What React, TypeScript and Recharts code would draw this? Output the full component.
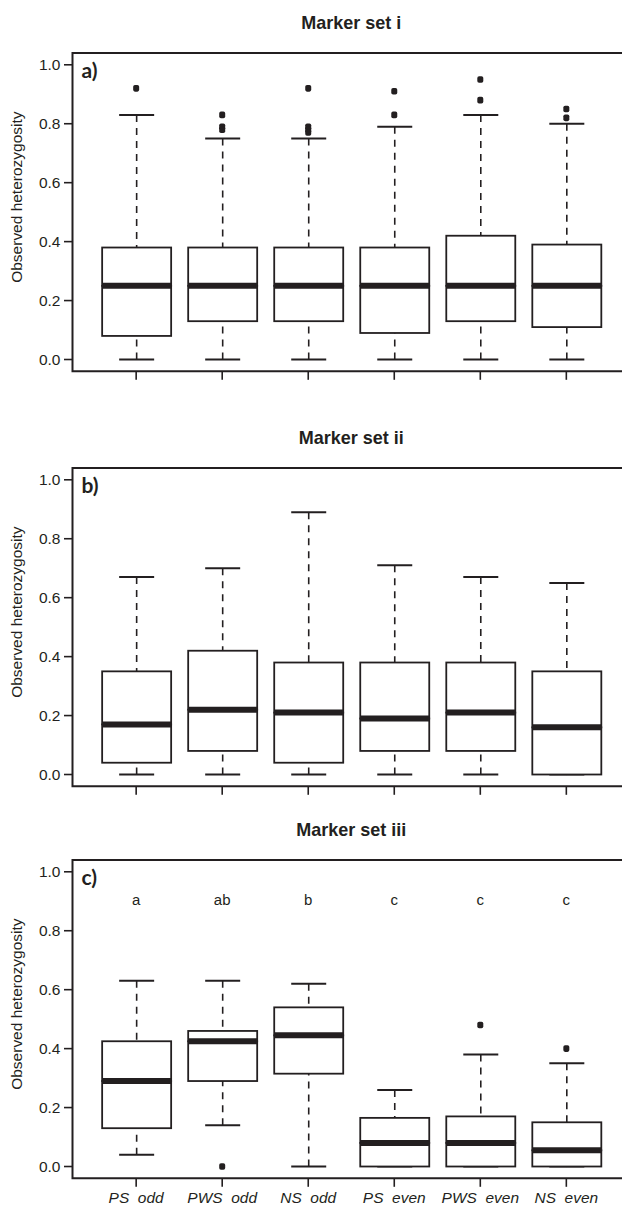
import React from "react";
import {
  ComposedChart,
  Bar,
  Scatter,
  XAxis,
  YAxis,
  ReferenceArea,
} from "recharts";

const groups = ["PS  odd", "PWS  odd", "NS  odd", "PS  even", "PWS  even", "NS  even"];
const positions = [1, 2, 3, 4, 5, 6];
const yTicks = [0, 0.2, 0.4, 0.6, 0.8, 1.0];

// Marker set i
const minA = [0, 0, 0, 0, 0, 0];
const q1A = [0.08, 0.13, 0.13, 0.09, 0.13, 0.11];
const medA = [0.25, 0.25, 0.25, 0.25, 0.25, 0.25];
const q3A = [0.38, 0.38, 0.38, 0.38, 0.42, 0.39];
const maxA = [0.83, 0.75, 0.75, 0.79, 0.83, 0.8];
const outA = [[0.92], [0.83, 0.79, 0.78], [0.92, 0.79, 0.78, 0.77], [0.91, 0.83], [0.95, 0.88], [0.85, 0.82]];

// Marker set ii
const minB = [0, 0, 0, 0, 0, 0];
const q1B = [0.04, 0.08, 0.04, 0.08, 0.08, 0];
const medB = [0.17, 0.22, 0.21, 0.19, 0.21, 0.16];
const q3B = [0.35, 0.42, 0.38, 0.38, 0.38, 0.35];
const maxB = [0.67, 0.7, 0.89, 0.71, 0.67, 0.65];
const outB: number[][] = [[], [], [], [], [], []];

// Marker set iii
const minC = [0.04, 0.14, 0, 0, 0, 0];
const q1C = [0.13, 0.29, 0.315, 0, 0, 0];
const medC = [0.29, 0.425, 0.445, 0.08, 0.08, 0.055];
const q3C = [0.425, 0.46, 0.54, 0.165, 0.17, 0.15];
const maxC = [0.63, 0.63, 0.62, 0.26, 0.38, 0.35];
const outC = [[], [0], [], [], [0.48], [0.4]];
const lettersC = ["a", "ab", "b", "c", "c", "c"];
const LETTER_Y = 0.888;

const INK = "#231f20";
const FONT = "'Liberation Sans', Arial, sans-serif";
const CAP = 35;

function buildRows(mins: number[], q1s: number[], meds: number[], q3s: number[], maxs: number[]) {
  return positions.map((x, i) => ({
    x,
    base: mins[i],
    wLo: q1s[i] - mins[i],
    bLo: meds[i] - q1s[i],
    bHi: q3s[i] - meds[i],
    wHi: maxs[i] - q3s[i],
  }));
}

function buildOutliers(out: number[][]) {
  const pts: { x: number; y: number }[] = [];
  out.forEach((vals, i) => vals.forEach((v) => pts.push({ x: positions[i], y: v })));
  return pts;
}

const edges = (p: any) => {
  const top = Math.min(p.y, p.y + p.height);
  const bottom = Math.max(p.y, p.y + p.height);
  return { top, bottom, cx: p.x + p.width / 2 };
};

const Empty = () => <g />;

const LowerWhisker = (p: any) => {
  const { top, bottom, cx } = edges(p);
  return (
    <g>
      <line x1={cx} x2={cx} y1={bottom} y2={top} stroke={INK} strokeWidth={1.6} strokeDasharray="7 6" />
      <line x1={cx - CAP / 2} x2={cx + CAP / 2} y1={bottom} y2={bottom} stroke={INK} strokeWidth={2} />
    </g>
  );
};

const UpperWhisker = (p: any) => {
  const { top, bottom, cx } = edges(p);
  return (
    <g>
      <line x1={cx} x2={cx} y1={top} y2={bottom} stroke={INK} strokeWidth={1.6} strokeDasharray="7 6" />
      <line x1={cx - CAP / 2} x2={cx + CAP / 2} y1={top} y2={top} stroke={INK} strokeWidth={2} />
    </g>
  );
};

const LowerBox = (p: any) => {
  const { top, bottom } = edges(p);
  return <rect x={p.x} y={top} width={p.width} height={bottom - top} fill="#fff" stroke={INK} strokeWidth={1.8} />;
};

const UpperBox = (p: any) => {
  const { top, bottom } = edges(p);
  return (
    <g>
      <rect x={p.x} y={top} width={p.width} height={bottom - top} fill="#fff" stroke={INK} strokeWidth={1.8} />
      <line x1={p.x} x2={p.x + p.width} y1={bottom} y2={bottom} stroke={INK} strokeWidth={6} />
    </g>
  );
};

const Outlier = (p: any) => (
  <rect x={p.cx - 3} y={p.cy - 3.3} width={6} height={6.6} rx={1.8} fill={INK} />
);

const GroupLetter = (p: any) => (
  <text x={p.cx} y={p.cy} textAnchor="middle" fontFamily={FONT} fontSize={15} fill={INK}>
    {p.payload.label}
  </text>
);

type PanelProps = {
  title: string;
  letter: string;
  frameTop: number;
  rows: any[];
  outliers: { x: number; y: number }[];
  showLabels: boolean;
  letters?: { x: number; y: number; label: string }[];
};

function Panel({ title, letter, frameTop, rows, outliers, showLabels, letters }: PanelProps) {
  const marginTop = 60;
  const frameText = (props: any) => {
    const vb = props.viewBox;
    const cx = vb.x + vb.width / 2;
    const cy = vb.y + vb.height / 2 - 15;
    return (
      <g>
        <text x={cx} y={vb.y - 24} textAnchor="middle" fontFamily={FONT} fontWeight="bold" fontSize={18} fill={INK}>
          {title}
        </text>
        <text x={vb.x + 9} y={vb.y + 25.5} fontFamily="Lato, 'Open Sans', sans-serif" fontWeight="bold" fontSize={21} fill={INK}>
          {letter}
        </text>
        <text
          x={22}
          y={cy}
          transform={`rotate(-90, 22, ${cy})`}
          textAnchor="middle"
          fontFamily={FONT}
          fontSize={15.5}
          fill={INK}
        >
          Observed heterozygosity
        </text>
      </g>
    );
  };

  const renderTick = (props: any) => {
    if (!showLabels) return <g />;
    return (
      <text
        x={props.x}
        y={props.y}
        dy="0.71em"
        textAnchor="middle"
        fontFamily={FONT}
        fontStyle="italic"
        fontSize={15.5}
        fill={INK}
        style={{ whiteSpace: "pre" }}
      >
        {groups[props.payload.value - 1]}
      </text>
    );
  };

  return (
    <div style={{ position: "absolute", left: 0, top: frameTop - marginTop }}>
      <ComposedChart
        width={640}
        height={marginTop + 318.3 + 40}
        data={rows}
        margin={{ top: marginTop, right: 10, bottom: 0, left: 0 }}
      >
        <XAxis
          dataKey="x"
          type="number"
          domain={[0.26, 6.74]}
          allowDataOverflow
          ticks={positions}
          axisLine={false}
          tickLine={{ stroke: INK, strokeWidth: 1.6 }}
          tickSize={8.5}
          tickMargin={5}
          tick={renderTick}
          height={40}
          interval={0}
        />
        <YAxis
          type="number"
          domain={[-0.04, 1.04]}
          allowDataOverflow
          ticks={yTicks}
          width={72.5}
          axisLine={false}
          tickLine={{ stroke: INK, strokeWidth: 1.6 }}
          tickSize={8.5}
          tickMargin={3.5}
          tickFormatter={(v: number) => v.toFixed(1)}
          tick={{ fill: INK, fontSize: 15.5, fontFamily: FONT }}
          interval={0}
        />
        <ReferenceArea
          x1={0.26}
          x2={6.74}
          y1={-0.04}
          y2={1.04}
          ifOverflow="visible"
          fill="none"
          fillOpacity={0}
          stroke={INK}
          strokeWidth={2}
          label={frameText}
        />
        <Bar dataKey="base" stackId="box" barSize={69} shape={Empty} isAnimationActive={false} />
        <Bar dataKey="wLo" stackId="box" barSize={69} shape={LowerWhisker} isAnimationActive={false} />
        <Bar dataKey="bLo" stackId="box" barSize={69} shape={LowerBox} isAnimationActive={false} />
        <Bar dataKey="bHi" stackId="box" barSize={69} shape={UpperBox} isAnimationActive={false} />
        <Bar dataKey="wHi" stackId="box" barSize={69} shape={UpperWhisker} isAnimationActive={false} />
        <Scatter data={outliers} dataKey="y" shape={Outlier} isAnimationActive={false} />
        {letters && <Scatter data={letters} dataKey="y" shape={GroupLetter} isAnimationActive={false} />}
      </ComposedChart>
    </div>
  );
}

export default function App() {
  const lettersData = lettersC.map((label, i) => ({ x: positions[i], y: LETTER_Y, label }));
  return (
    <div
      style={{
        position: "absolute",
        left: 0,
        top: 0,
        width: 622,
        height: 1205,
        overflow: "hidden",
        background: "#fff",
      }}
    >
      <Panel
        title="Marker set i"
        letter="a)"
        frameTop={52.5}
        rows={buildRows(minA, q1A, medA, q3A, maxA)}
        outliers={buildOutliers(outA)}
        showLabels={false}
      />
      <Panel
        title="Marker set ii"
        letter="b)"
        frameTop={467.7}
        rows={buildRows(minB, q1B, medB, q3B, maxB)}
        outliers={buildOutliers(outB)}
        showLabels={false}
      />
      <Panel
        title="Marker set iii"
        letter="c)"
        frameTop={860}
        rows={buildRows(minC, q1C, medC, q3C, maxC)}
        outliers={buildOutliers(outC)}
        showLabels={true}
        letters={lettersData}
      />
    </div>
  );
}
